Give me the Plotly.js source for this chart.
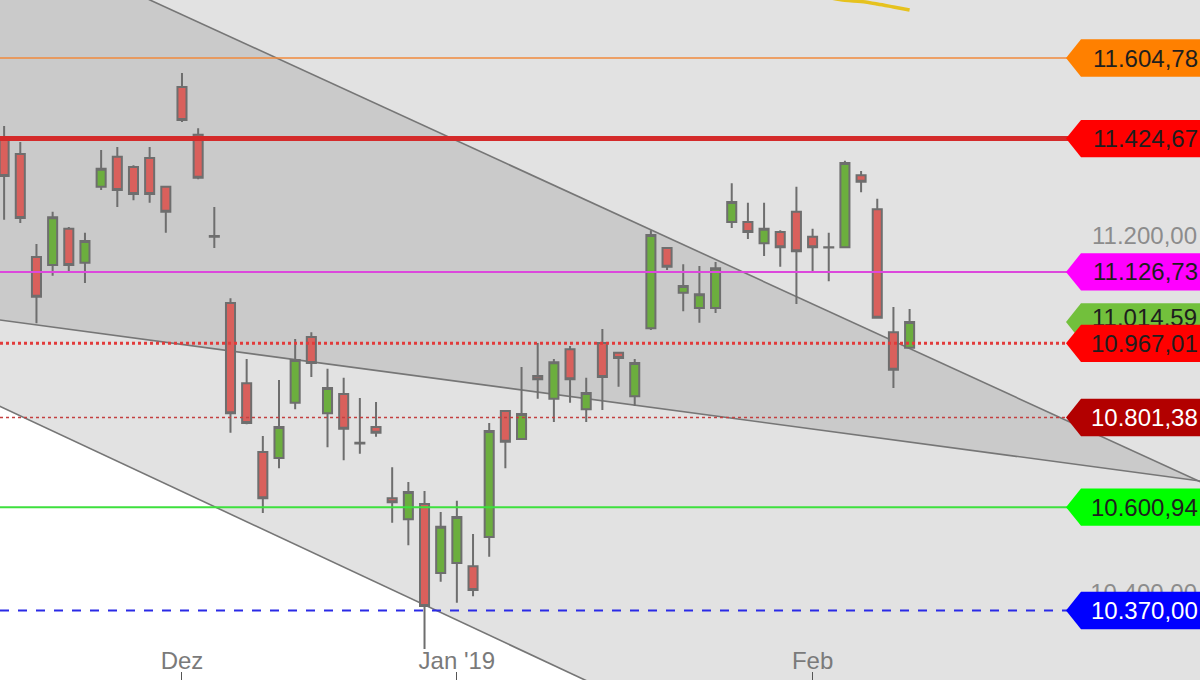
<!DOCTYPE html>
<html><head><meta charset="utf-8">
<script src="https://cdn.plot.ly/plotly-3.0.1.min.js"></script>
<style>html,body{margin:0;padding:0;background:#e2e2e2;}#chart{width:1200px;height:680px;}</style>
</head><body><div id="chart"></div>
<script>
// ---- data ----
const dates = [
 '2018-11-16','2018-11-19','2018-11-20','2018-11-21','2018-11-22','2018-11-23','2018-11-26','2018-11-27','2018-11-28','2018-11-29','2018-11-30',
 '2018-12-03','2018-12-04','2018-12-05','2018-12-06','2018-12-07','2018-12-10','2018-12-11','2018-12-12','2018-12-13','2018-12-14',
 '2018-12-17','2018-12-18','2018-12-19','2018-12-20','2018-12-21','2018-12-27','2018-12-28',
 '2019-01-02','2019-01-03','2019-01-04','2019-01-07','2019-01-08','2019-01-09','2019-01-10','2019-01-11','2019-01-14','2019-01-15',
 '2019-01-16','2019-01-17','2019-01-18','2019-01-21','2019-01-22','2019-01-23','2019-01-24','2019-01-25','2019-01-28','2019-01-29',
 '2019-01-30','2019-01-31','2019-02-01','2019-02-04','2019-02-05','2019-02-06','2019-02-07','2019-02-08','2019-02-11'
];
const openP  = [11428,11390,11160,11142,11223,11147,11317,11384,11361,11381,11317,
  11540,11433,11207,11057,10878,10724,10711,10834,10981,10811,10854,10745,10780,10621,10574,10608,10454,
  10476,10469,10534,10816,10753,10894,10843,10954,10820,10968,10946,10849,11001,11180,11080,11046,11046,11238,11238,11191,
  11216,11261,11205,11182,11182,11343,11267,10992,10957];
const highP  = [11453,11417,11189,11261,11227,11214,11399,11406,11365,11406,11319,
  11571,11448,11272,11068,10932,10760,10885,10977,10992,10910,10890,10845,10836,10690,10657,10637,10590,
  10615,10541,10789,10818,10914,10968,10932,10961,10890,10999,10948,10932,11220,11182,11144,11140,11149,11325,11281,11281,
  11220,11317,11223,11214,11375,11352,11290,11048,11044];
const lowP   = [11243,11236,11012,11118,11124,11102,11310,11272,11287,11281,11214,
  11462,11334,11180,10767,10786,10588,10688,10820,10892,10735,10706,10720,10758,10566,10516,10284,10434,
  10387,10402,10490,10688,10751,10843,10791,10834,10791,10818,10870,10827,10997,11131,11039,11013,11035,11225,11200,11162,
  11138,11055,11124,11106,11180,11305,11022,10867,10955];
const closeP = [11341,11247,11071,11249,11142,11196,11357,11310,11301,11301,11261,
  11466,11337,11205,10811,10789,10621,10780,10930,10923,10867,10776,10743,10767,10612,10635,10380,10557,
  10579,10416,10771,10747,10809,10887,10925,10887,10856,10892,10934,10923,11209,11138,11095,11077,11135,11283,11216,11223,
  11182,11173,11182,11181,11370,11328,11024,10908,11014.59];

const maDates  = ['2019-02-04','2019-02-05','2019-02-06','2019-02-07','2019-02-08','2019-02-11'];
const maValues = [11740, 11733.7, 11731, 11725.5, 11718.8, 11712];

const levelValues = [11604.78, 11424.67, 11126.73, 10967.01, 10801.38, 10600.94, 10370.00];
const lastPrice = 11014.59;
const axisTickValues = [10400, 11200];
const monthTickDates  = ['2018-12-03','2019-01-02','2019-02-01'];
const monthTickLabels = ['Dez', "Jan '19", 'Feb'];

// trend lines: anchor points (trading-day index, price)
const trendUpperX = [9.02, 73.96],  trendUpperY = [11734.4, 10657.8];
const trendMidX   = [-0.255, 73.96], trendMidY  = [11019.2, 10659.4];
const trendLowX   = [-0.255, 35.92], trendLowY  = [10826.3, 10214.6];

// ---- styles ----
const FONT = 'Liberation Sans, Arial, sans-serif';
const levelStyles = [
  {line:'#f08a3c', width:1.5, dash:'solid', tag:'#ff8000', text:'#1e1e1e'},
  {line:'#d42a2a', width:5,   dash:'solid', tag:'#ff0000', text:'#1e1e1e'},
  {line:'#dc48dc', width:2,   dash:'solid', tag:'#ff00ff', text:'#1e1e1e'},
  {line:'#e23a3a', width:3,   dash:'dot',   tag:'#ff0000', text:'#1e1e1e'},
  {line:'#c44040', width:1.5, dash:'dot',   tag:'#b20000', text:'#ffffff'},
  {line:'#3ee03e', width:2,   dash:'solid', tag:'#00ff00', text:'#1e1e1e'},
  {line:'#2a2ae6', width:2,   dash:'dash',  tag:'#0000ff', text:'#ffffff'}
];
const lastTagColor = '#72c03c';

function fmtDE(v){
  const s = v.toFixed(2).split('.');
  return s[0].replace(/\B(?=(\d{3})+(?!\d))/g, '.') + ',' + s[1];
}
const idx = d => dates.indexOf(d);
const xs = dates.map((d,i)=>i);

function lineAt(X, Y, x){ return Y[0] + (Y[1]-Y[0])*(x-X[0])/(X[1]-X[0]); }

const xL = -3, xR = 78;
const su = (trendUpperY[1]-trendUpperY[0])/(trendUpperX[1]-trendUpperX[0]);
const sm = (trendMidY[1]-trendMidY[0])/(trendMidX[1]-trendMidX[0]);
const bu = trendUpperY[0]-su*trendUpperX[0], bm = trendMidY[0]-sm*trendMidX[0];
const xi = (bm-bu)/(su-sm), yi = su*xi+bu;

const shapes = [];
shapes.push({type:'path', xref:'x', yref:'y', layer:'below', line:{width:0}, fillcolor:'#cacaca',
  path:`M ${xL},${lineAt(trendUpperX,trendUpperY,xL)} L ${xi},${yi} L ${xL},${lineAt(trendMidX,trendMidY,xL)} Z`});
const yLowBottom = 9000;
shapes.push({type:'path', xref:'x', yref:'y', layer:'below', line:{width:0}, fillcolor:'#ffffff',
  path:`M ${xL},${lineAt(trendLowX,trendLowY,xL)} L 60,${lineAt(trendLowX,trendLowY,60)} L 60,${yLowBottom} L ${xL},${yLowBottom} Z`});
[[trendUpperX,trendUpperY],[trendMidX,trendMidY],[trendLowX,trendLowY]].forEach(([X,Y])=>{
  shapes.push({type:'line', xref:'x', yref:'y', layer:'below', x0:xL, y0:lineAt(X,Y,xL), x1:xR, y1:lineAt(X,Y,xR),
    line:{color:'#767676', width:1.6}});
});
const tagPath = 'M -134 0 L -119 -18.7 L 4 -18.7 L 4 18.7 L -119 18.7 Z';
shapes.push({type:'path', xref:'paper', yref:'y', xsizemode:'pixel', ysizemode:'pixel', xanchor:1, yanchor:lastPrice,
  layer:'below', path:tagPath, fillcolor:lastTagColor, line:{width:0}});
levelValues.forEach((v,k)=>{
  const st = levelStyles[k];
  shapes.push({type:'line', xref:'paper', yref:'y', x0:0, x1:1, y0:v, y1:v, layer:'above',
    line:{color:st.line, width:st.width, dash:st.dash}});
});
levelValues.forEach((v,k)=>{
  shapes.push({type:'path', xref:'paper', yref:'y', xsizemode:'pixel', ysizemode:'pixel', xanchor:1, yanchor:v,
    layer:'above', path:tagPath, fillcolor:levelStyles[k].tag, line:{width:0}});
});

const annotations = levelValues.map((v,k)=>({
  x:1, xref:'paper', xanchor:'right', xshift:0, y:v, yref:'y', yanchor:'middle', showarrow:false,
  text: fmtDE(v), font:{family:FONT, size:24, color:levelStyles[k].text}
}));

const yTickVals = [axisTickValues[0], lastPrice, axisTickValues[1]];
const yTickText = [fmtDE(axisTickValues[0]), `<span style="color:#1e1e1e">${fmtDE(lastPrice)}</span>`, fmtDE(axisTickValues[1])];

const traces = [
  {type:'candlestick', x:xs, open:openP, high:highP, low:lowP, close:closeP,
   increasing:{fillcolor:'#6cae3e', line:{color:'#6e6e6e', width:2}},
   decreasing:{fillcolor:'#d9605c', line:{color:'#6e6e6e', width:2}},
   hoverinfo:'skip', showlegend:false},
  {type:'scatter', mode:'lines', x:maDates.map(idx), y:maValues, line:{color:'#e6c21e', width:3.5, shape:'spline'},
   hoverinfo:'skip', showlegend:false}
];

const layout = {
  width:1200, height:680, margin:{l:0,r:0,t:0,b:0},
  paper_bgcolor:'#e2e2e2', plot_bgcolor:'#e2e2e2',
  showlegend:false, boxgap:0.2, boxgroupgap:0.3,
  font:{family:FONT},
  xaxis:{type:'linear', range:[-0.255, 73.96], showgrid:false, zeroline:false, showline:false,
    rangeslider:{visible:false},
    tickmode:'array', tickvals: monthTickDates.map(idx), ticktext: monthTickLabels,
    ticks:'inside', ticklen:8, tickcolor:'#555555', tickwidth:1,
    ticklabelposition:'inside', tickfont:{family:FONT, size:24, color:'#7a7a7a'}},
  yaxis:{side:'right', range:[10214.6, 11734.41], showgrid:false, zeroline:false, showline:false,
    tickmode:'array', tickvals:yTickVals, ticktext:yTickText, ticks:'', ticklabelshift:-4,
    ticklabelposition:'inside', tickfont:{family:FONT, size:24, color:'#8c8c8c'}},
  shapes, annotations
};

Plotly.newPlot('chart', traces, layout, {staticPlot:true, displayModeBar:false});
</script></body></html>
